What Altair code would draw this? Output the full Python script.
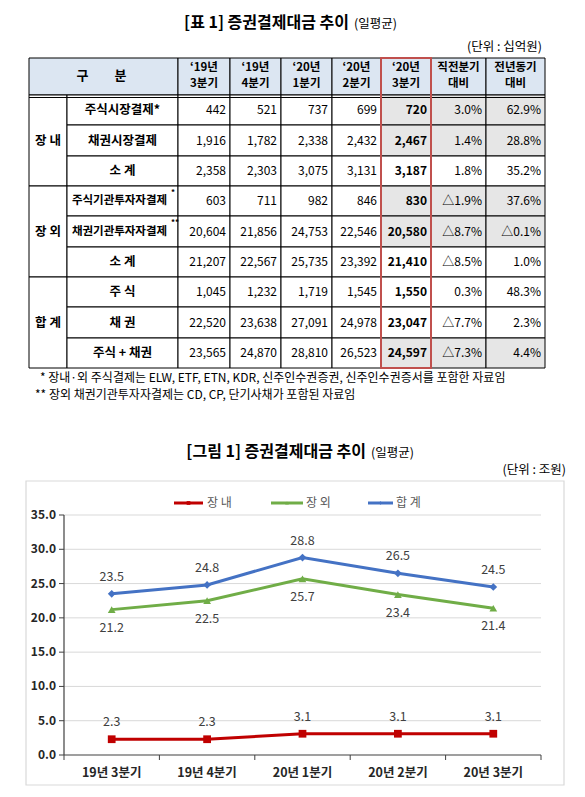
import altair as alt
import pandas as pd

# ------------------------------------------------------------------ data
TABLE_TITLE = "[표 1] 증권결제대금 추이"
TABLE_TITLE_SUB = "(일평균)"
TABLE_UNIT = "(단위 : 십억원)"
HEAD_LABEL = "구\u3000\u3000분"
COL_HEAD_TOP = ["‘19년", "‘19년", "‘20년", "‘20년", "‘20년", "직전분기", "전년동기"]
COL_HEAD_BOTTOM = ["3분기", "4분기", "1분기", "2분기", "3분기", "대비", "대비"]
GROUPS = ["장 내", "장 외", "합 계"]
ITEMS = ["주식시장결제*", "채권시장결제", "소 계", "주식기관투자자결제", "채권기관투자자결제",
         "소 계", "주 식", "채 권", "주식 + 채권"]
ITEM_SUP = ["", "", "", "*", "**", "", "", "", ""]
Q3_19 = [442, 1916, 2358, 603, 20604, 21207, 1045, 22520, 23565]
Q4_19 = [521, 1782, 2303, 711, 21856, 22567, 1232, 23638, 24870]
Q1_20 = [737, 2338, 3075, 982, 24753, 25735, 1719, 27091, 28810]
Q2_20 = [699, 2432, 3131, 846, 22546, 23392, 1545, 24978, 26523]
Q3_20 = [720, 2467, 3187, 830, 20580, 21410, 1550, 23047, 24597]
PCT_QOQ = [3.0, 1.4, 1.8, -1.9, -8.7, -8.5, 0.3, -7.7, -7.3]
PCT_YOY = [62.9, 28.8, 35.2, 37.6, -0.1, 1.0, 48.3, 2.3, 4.4]
SHADED_ROWS = [0, 1, 3, 4, 8]
NOTE_1 = "* 장내·외 주식결제는 ELW, ETF, ETN, KDR, 신주인수권증권, 신주인수권증서를 포함한 자료임"
NOTE_2 = "** 장외 채권기관투자자결제는 CD, CP, 단기사채가 포함된 자료임"

CHART_TITLE = "[그림 1] 증권결제대금 추이"
CHART_TITLE_SUB = "(일평균)"
CHART_UNIT = "(단위 : 조원)"
QUARTERS = ["19년 3분기", "19년 4분기", "20년 1분기", "20년 2분기", "20년 3분기"]
SERIES = ["장내", "장외", "합계"]
LEGEND_LABELS = ["장 내", "장 외", "합 계"]
JANGNAE = [2.3, 2.3, 3.1, 3.1, 3.1]
JANGOE = [21.2, 22.5, 25.7, 23.4, 21.4]
TOTAL = [23.5, 24.8, 28.8, 26.5, 24.5]
Y_TICKS = [0, 5, 10, 15, 20, 25, 30, 35]

# ------------------------------------------------------------------ layout / style
PAGE = 8
W, H = 569, 781
FONT = "Noto Sans CJK KR"
HEADER_BG = "#dce6f2"
SHADE = "#e6e6e6"
BOX_RED = "#c0504d"
COLORS = ["#c00000", "#70ad47", "#4472c4"]
SHAPES = ["square", "triangle-up", "diamond"]
COL_EDGES = [29, 67, 178, 230, 281, 332, 381, 431, 486, 545]
ROW_EDGES = [58, 95, 125, 156, 186, 216, 247, 277, 307, 338, 368]

XS = alt.Scale(domain=[PAGE, PAGE + W], range=[0, W], nice=False, zero=False)
YS = alt.Scale(domain=[PAGE, PAGE + H], range=[0, H], nice=False, zero=False)
# line-chart scales (plot area 64..541 x 515..755 on the page)
XP = alt.Scale(type="point", domain=QUARTERS, range=[64 - PAGE, 541 - PAGE], padding=0.5)
XB = alt.Scale(type="band", domain=QUARTERS, range=[64 - PAGE, 541 - PAGE],
               paddingInner=0, paddingOuter=0)
YL = alt.Scale(domain=[0, 35], range=[755 - PAGE, 515 - PAGE], nice=False, zero=False)
CS = alt.Scale(domain=SERIES, range=COLORS)
SS = alt.Scale(domain=SERIES, range=SHAPES)


def ix(f):
    return alt.X(f"{f}:Q", scale=XS, axis=None)


def iy(f):
    return alt.Y(f"{f}:Q", scale=YS, axis=None)


def text_layer(df, size, weight="normal", align="left", color="black", **kw):
    return alt.Chart(df).mark_text(font=FONT, fontSize=size, fontWeight=weight, align=align,
                                   baseline="middle", color=color, **kw).encode(
        x=ix("x"), y=iy("y"), text="text:N")


def fmt_num(v):
    return f"{v:,}"


def fmt_pct(v):
    return f"△{abs(v):.1f}%" if v < 0 else f"{v:.1f}%"


layers = []

# ------------------------------------------------------------------ table
cells = [dict(x0=COL_EDGES[0], x1=COL_EDGES[2], y0=ROW_EDGES[0], y1=ROW_EDGES[1], fill=HEADER_BG)]
for c in range(7):
    cells.append(dict(x0=COL_EDGES[c + 2], x1=COL_EDGES[c + 3], y0=ROW_EDGES[0], y1=ROW_EDGES[1],
                      fill=HEADER_BG))
for g in range(3):
    cells.append(dict(x0=COL_EDGES[0], x1=COL_EDGES[1], y0=ROW_EDGES[1 + 3 * g],
                      y1=ROW_EDGES[4 + 3 * g], fill="white"))
for r in range(9):
    cells.append(dict(x0=COL_EDGES[1], x1=COL_EDGES[2], y0=ROW_EDGES[r + 1], y1=ROW_EDGES[r + 2],
                      fill="white"))
    for c in range(7):
        fill = SHADE if (c >= 4 and r in SHADED_ROWS) else "white"
        cells.append(dict(x0=COL_EDGES[c + 2], x1=COL_EDGES[c + 3], y0=ROW_EDGES[r + 1],
                          y1=ROW_EDGES[r + 2], fill=fill))
layers.append(alt.Chart(pd.DataFrame(cells)).mark_rect(stroke="black", strokeWidth=1).encode(
    x=ix("x0"), x2="x1", y=iy("y0"), y2="y1", fill=alt.Fill("fill:N", scale=None)))

# double line under header
layers.append(alt.Chart(pd.DataFrame([dict(x0=COL_EDGES[0], x1=COL_EDGES[-1], y=ROW_EDGES[1] + 2.5)]))
              .mark_rule(color="black", strokeWidth=1).encode(x=ix("x0"), x2="x1", y=iy("y")))

# red highlight box
layers.append(alt.Chart(pd.DataFrame([dict(x0=COL_EDGES[6], x1=COL_EDGES[7], y0=ROW_EDGES[0],
                                           y1=ROW_EDGES[-1])]))
              .mark_rect(fillOpacity=0, stroke=BOX_RED, strokeWidth=2)
              .encode(x=ix("x0"), x2="x1", y=iy("y0"), y2="y1"))

hy = (ROW_EDGES[0] + ROW_EDGES[1]) / 2 - 0.5
layers.append(text_layer(pd.DataFrame([dict(x=(COL_EDGES[0] + COL_EDGES[2]) / 2 - 2, y=hy,
                                            text=HEAD_LABEL)]), 13, "bold", "center"))
head_rows = []
for c in range(7):
    cx = (COL_EDGES[c + 2] + COL_EDGES[c + 3]) / 2
    head_rows.append(dict(x=cx, y=hy - 8, text=COL_HEAD_TOP[c]))
    head_rows.append(dict(x=cx, y=hy + 8, text=COL_HEAD_BOTTOM[c]))
layers.append(text_layer(pd.DataFrame(head_rows), 11.5, "bold", "center"))
layers.append(text_layer(pd.DataFrame([dict(x=(COL_EDGES[0] + COL_EDGES[1]) / 2,
                                            y=(ROW_EDGES[1 + 3 * g] + ROW_EDGES[4 + 3 * g]) / 2,
                                            text=GROUPS[g]) for g in range(3)]), 12.5, "bold", "center"))

rc = [(ROW_EDGES[r + 1] + ROW_EDGES[r + 2]) / 2 for r in range(9)]
item_x = (COL_EDGES[1] + COL_EDGES[2]) / 2
normal_items = [dict(x=item_x, y=rc[r], text=ITEMS[r]) for r in range(9) if not ITEM_SUP[r]]
long_items = [dict(x=item_x - 3, y=rc[r], text=ITEMS[r]) for r in range(9) if ITEM_SUP[r]]
sups = [dict(x=COL_EDGES[2] - 7, y=ROW_EDGES[r + 1] + 7, text=ITEM_SUP[r]) for r in range(9) if ITEM_SUP[r]]
layers.append(text_layer(pd.DataFrame(normal_items), 12.5, "bold", "center"))
layers.append(text_layer(pd.DataFrame(long_items), 11.5, "bold", "center"))
layers.append(text_layer(pd.DataFrame(sups), 8, "bold", "left"))

value_cols = [Q3_19, Q4_19, Q1_20, Q2_20]
plain = []
for c, col in enumerate(value_cols):
    for r in range(9):
        plain.append(dict(x=COL_EDGES[c + 3] - 4, y=rc[r], text=fmt_num(col[r])))
for c, col in ((5, PCT_QOQ), (6, PCT_YOY)):
    for r in range(9):
        plain.append(dict(x=COL_EDGES[c + 3] - 4, y=rc[r], text=fmt_pct(col[r])))
layers.append(text_layer(pd.DataFrame(plain), 12, "normal", "right"))
layers.append(text_layer(pd.DataFrame([dict(x=COL_EDGES[7] - 4, y=rc[r], text=fmt_num(Q3_20[r]))
                                       for r in range(9)]), 12, "bold", "right"))

# titles, unit, notes
layers.append(text_layer(pd.DataFrame([dict(x=349, y=23, text=TABLE_TITLE),
                                       dict(x=366, y=452, text=CHART_TITLE)]), 16, "bold", "right"))
layers.append(text_layer(pd.DataFrame([dict(x=354, y=24, text=TABLE_TITLE_SUB),
                                       dict(x=371, y=453, text=CHART_TITLE_SUB)]), 12.5, "normal", "left"))
layers.append(text_layer(pd.DataFrame([dict(x=542, y=47, text=TABLE_UNIT),
                                       dict(x=566, y=470, text=CHART_UNIT)]), 12.5, "normal", "right"))
layers.append(text_layer(pd.DataFrame([dict(x=40, y=378, text=NOTE_1),
                                       dict(x=35, y=395, text=NOTE_2)]), 12, "normal", "left"))

# ------------------------------------------------------------------ line chart
layers.append(alt.Chart(pd.DataFrame([dict(x0=26, x1=564, y0=481, y1=785)]))
              .mark_rect(fill="white", stroke="#d9d9d9", strokeWidth=1.2)
              .encode(x=ix("x0"), x2="x1", y=iy("y0"), y2="y1"))

ticks_df = pd.DataFrame({"v": Y_TICKS, "label": [f"{v:.1f}" for v in Y_TICKS]})
layers.append(alt.Chart(ticks_df[ticks_df.v > 0]).mark_rule(color="#d9d9d9", strokeWidth=1).encode(
    y=alt.Y("v:Q", scale=YL, axis=None), x=alt.value(64 - PAGE), x2=alt.value(541 - PAGE)))
layers.append(alt.Chart(ticks_df).mark_rule(color="#404040", strokeWidth=1).encode(
    y=alt.Y("v:Q", scale=YL, axis=None), x=alt.value(59 - PAGE), x2=alt.value(64 - PAGE)))
layers.append(alt.Chart(pd.DataFrame({"lo": [0], "hi": [35]})).mark_rule(color="#404040", strokeWidth=1.2)
              .encode(y=alt.Y("lo:Q", scale=YL, axis=None), y2="hi", x=alt.value(64 - PAGE)))
layers.append(alt.Chart(pd.DataFrame({"v": [0]})).mark_rule(color="#404040", strokeWidth=1.2).encode(
    y=alt.Y("v:Q", scale=YL, axis=None), x=alt.value(64 - PAGE), x2=alt.value(541 - PAGE)))
layers.append(alt.Chart(ticks_df).mark_text(font=FONT, fontSize=12, fontWeight="bold", align="right",
                                            baseline="middle", color="#262626").encode(
    y=alt.Y("v:Q", scale=YL, axis=None), x=alt.value(56 - PAGE), text="label:N"))

q_df = pd.DataFrame({"q": QUARTERS})
layers.append(alt.Chart(q_df).mark_rule(color="#404040", strokeWidth=1).encode(
    x=alt.X("q:N", scale=XB, bandPosition=0, axis=None),
    y=alt.value(755 - PAGE), y2=alt.value(760 - PAGE)))
layers.append(alt.Chart(q_df.tail(1)).mark_rule(color="#404040", strokeWidth=1).encode(
    x=alt.X("q:N", scale=XB, bandPosition=1, axis=None),
    y=alt.value(755 - PAGE), y2=alt.value(760 - PAGE)))
layers.append(alt.Chart(q_df).mark_text(font=FONT, fontSize=12.5, fontWeight="bold", align="center",
                                        baseline="middle", color="#262626").encode(
    x=alt.X("q:N", scale=XP, axis=None), y=alt.value(773 - PAGE), text="q:N"))

series_df = pd.DataFrame({
    "q": QUARTERS * 3,
    "series": [SERIES[0]] * 5 + [SERIES[1]] * 5 + [SERIES[2]] * 5,
    "v": JANGNAE + JANGOE + TOTAL,
})
series_df["label"] = series_df["v"].map(lambda v: f"{v:.1f}")

layers.append(alt.Chart(series_df).mark_line(strokeWidth=3).encode(
    x=alt.X("q:N", scale=XP, axis=None), y=alt.Y("v:Q", scale=YL, axis=None),
    color=alt.Color("series:N", scale=CS, legend=None)))
layers.append(alt.Chart(series_df).mark_point(filled=True, opacity=1, size=60).encode(
    x=alt.X("q:N", scale=XP, axis=None), y=alt.Y("v:Q", scale=YL, axis=None),
    color=alt.Color("series:N", scale=CS, legend=None),
    shape=alt.Shape("series:N", scale=SS, legend=None)))

for s, dy in zip(SERIES, [-17, 18, -17]):
    layers.append(alt.Chart(series_df).transform_filter(alt.datum.series == s).mark_text(
        font=FONT, fontSize=12.5, align="center", baseline="middle", color="#404040", dy=dy).encode(
        x=alt.X("q:N", scale=XP, axis=None), y=alt.Y("v:Q", scale=YL, axis=None), text="label:N"))

# legend
legend_df = pd.DataFrame({
    "series": SERIES, "label": LEGEND_LABELS,
    "x0": [174, 271, 368], "x1": [203, 303, 393], "lx": [207, 306, 396], "y": [503, 503, 503],
})
legend_df["xm"] = (legend_df["x0"] + legend_df["x1"]) / 2
layers.append(alt.Chart(legend_df).mark_rule(strokeWidth=3).encode(
    x=ix("x0"), x2="x1", y=iy("y"), color=alt.Color("series:N", scale=CS, legend=None)))
layers.append(alt.Chart(legend_df).mark_point(filled=True, opacity=1, size=14).encode(
    x=ix("xm"), y=iy("y"), color=alt.Color("series:N", scale=CS, legend=None),
    shape=alt.Shape("series:N", scale=SS, legend=None)))
layers.append(alt.Chart(legend_df).mark_text(font=FONT, fontSize=12, align="left", baseline="middle",
                                             color="#595959").encode(
    x=ix("lx"), y=iy("y"), text="label:N"))

chart = alt.layer(*layers).resolve_scale(
    x="independent", y="independent", color="independent", shape="independent"
).properties(
    width=W, height=H, padding=0, autosize=alt.AutoSizeParams(type="none"), background="white"
).configure_view(strokeWidth=0).configure_axis(disable=True)

chart.save("out.html", embed_options={"renderer": "svg", "actions": False})
